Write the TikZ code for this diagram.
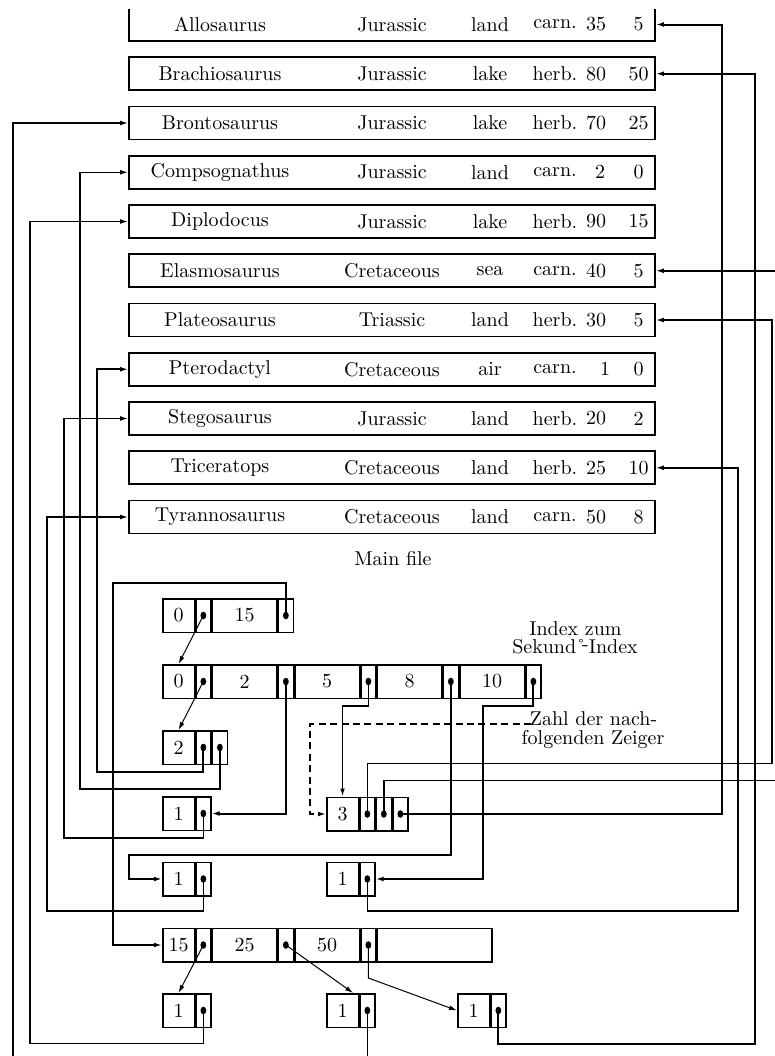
\documentclass[tikz,border=0pt]{standalone}
\usetikzlibrary{arrows.meta,shapes.geometric}
\begin{document}
\begin{tikzpicture}[x=0.5pt,y=-0.5pt,
  every node/.style={font=\fontsize{10}{12}\selectfont},
  rowbox/.style={draw,line width=0.8pt,minimum width=263pt,minimum height=16.5pt,inner sep=0pt},
  cellbase/.style={draw,line width=0.75pt,minimum height=16.75pt,inner sep=0pt,anchor=west},
  keycell/.style={cellbase,minimum width=15.8pt},
  ptrcell/.style={cellbase,minimum width=7.5pt},
  valcell/.style={cellbase,minimum width=32.25pt},
  emptycell/.style={cellbase,minimum width=57.25pt},
  conn/.style={line width=0.75pt},
  tconn/.style={line width=1pt},
  slant/.style={line width=0.5pt},
  arr/.style={-{Latex[length=4pt,width=2.4pt]}},
  lbl/.style={anchor=base,inner sep=0pt},
  ptrdot/.style={ellipse,fill=black,inner sep=0pt,minimum width=2.9pt,minimum height=3.8pt},
]
\useasboundingbox (0,0) rectangle (775,1056);
\clip (0,9.2) rectangle (775,1056);

% ---------------- main file ----------------
\foreach \i/\nm/\per/\hab/\die/\xa/\va/\vb in {
  0/Allosaurus/Jurassic/land/carn./596/35/5,
  1/Brachiosaurus/Jurassic/lake/herb./596/80/50,
  2/Brontosaurus/Jurassic/lake/herb./596/70/25,
  3/Compsognathus/Jurassic/land/carn./600/2/0,
  4/Diplodocus/Jurassic/lake/herb./596/90/15,
  5/Elasmosaurus/Cretaceous/sea/carn./596/40/5,
  6/Plateosaurus/Triassic/land/herb./596/30/5,
  7/Pterodactyl/Cretaceous/air/carn./605/1/0,
  8/Stegosaurus/Jurassic/land/herb./596/20/2,
  9/Triceratops/Cretaceous/land/herb./596/25/10,
  10/Tyrannosaurus/Cretaceous/land/carn./596/50/8}{
  \node[rowbox] (r\i) at (392,{24.5+49.25*\i}) {};
  \node (nm\i) at (220,{24.5+49.25*\i}) {\nm};
  \node (pe\i) at (392,{24.5+49.25*\i}) {\per};
  \node (ha\i) at (490,{24.5+49.25*\i}) {\hab};
  \node (di\i) at (555,{24.5+49.25*\i}) {\die};
  \node (va\i) at (\xa,{24.5+49.25*\i}) {\va};
  \node (vb\i) at (638.5,{24.5+49.25*\i}) {\vb};
}
\node (mainfile) at (393,559) {Main file};

% ---------------- index structures ----------------
\node[keycell] (A0) at (162,615.5) {0};
\node[ptrcell] (A1) at (A0.east) {};
\node[valcell] (A2) at (A1.east) {15};
\node[ptrcell] (A3) at (A2.east) {};

\node[keycell] (B0) at (162,681.5) {0};
\node[ptrcell] (B1) at (B0.east) {};
\node[valcell] (B2) at (B1.east) {2};
\node[ptrcell] (B3) at (B2.east) {};
\node[valcell] (B4) at (B3.east) {5};
\node[ptrcell] (B5) at (B4.east) {};
\node[valcell] (B6) at (B5.east) {8};
\node[ptrcell] (B7) at (B6.east) {};
\node[valcell] (B8) at (B7.east) {10};
\node[ptrcell] (B9) at (B8.east) {};

\node[keycell] (C0) at (162,747.5) {2};
\node[ptrcell] (C1) at (C0.east) {};
\node[ptrcell] (C2) at (C1.east) {};

\node[keycell] (D0) at (162,813.5) {1};
\node[ptrcell] (D1) at (D0.east) {};

\node[keycell] (E0) at (326,814) {3};
\node[ptrcell] (E1) at (E0.east) {};
\node[ptrcell] (E2) at (E1.east) {};
\node[ptrcell] (E3) at (E2.east) {};

\node[keycell] (F0) at (162,879) {1};
\node[ptrcell] (F1) at (F0.east) {};
\node[keycell] (G0) at (326,879) {1};
\node[ptrcell] (G1) at (G0.east) {};

\node[keycell] (H0) at (162,945) {15};
\node[ptrcell] (H1) at (H0.east) {};
\node[valcell] (H2) at (H1.east) {25};
\node[ptrcell] (H3) at (H2.east) {};
\node[valcell] (H4) at (H3.east) {50};
\node[ptrcell] (H5) at (H4.east) {};
\node[emptycell] (H6) at (H5.east) {};

\node[keycell] (I0) at (162,1010.5) {1};
\node[ptrcell] (I1) at (I0.east) {};
\node[keycell] (J0) at (326,1010.5) {1};
\node[ptrcell] (J1) at (J0.east) {};
\node[keycell] (K0) at (457,1010.5) {1};
\node[ptrcell] (K1) at (K0.east) {};

% labels
\node[lbl] (idx1) at (575.5,635) {Index zum};
\node[lbl] (idx2) at (575,653.5) {Sekund{\r{}}\kern-0.2em\raisebox{0.3ex}{-}Index};
\node[lbl] (zahl1) at (593.5,725.5) {Zahl der nach-};
\node[lbl] (zahl2) at (593,744) {folgenden Zeiger};
\coordinate (zstart) at (531,724);

% ---------------- connectors ----------------
\draw[conn,arr] (A3.center) |- (113,583) |- (H0.west);
\draw[slant,arr] (A1.center) -- (B0.north);
\draw[slant,arr] (B1.center) -- (C0.north);
\draw[tconn,arr] (B3.center) |- (D1.east);
\draw[conn,arr] (B5.center) |- (342,706) -| (E0.north);
\draw[tconn,arr] (B7.center) |- (129,855) |- (F0.west);
\draw[tconn,arr] (B9.center) |- (483,706) |- (G1.east);
\draw[conn,dashed,dash pattern=on 3.5pt off 2.2pt,arr] (zstart) -- (310,724) |- (E0.west);
\draw[tconn,arr] (C1.center) |- (97,772) |- (r7.west);
\draw[conn,arr] (C2.center) |- (80,789) |- (r3.west);
\draw[conn,arr] (D1.center) |- (64,838) |- (r8.west);
\draw[conn,arr] (E1.center) |- (772,763.5) |- (r6.east);
\draw[conn,arr] (E2.center) |- (792,780.5) |- (r5.east);
\draw[tconn,arr] (E3.center) -- (722,814) |- (r0.east);
\draw[conn,arr] (F1.center) |- (47,911) |- (r10.west);
\draw[conn,arr] (G1.center) |- (738,911) |- (r9.east);
\draw[slant,arr] (H1.center) -- (I0.north);
\draw[slant,arr] (H3.center) -- ([xshift=-3pt]J0.north east);
\draw[slant,arr] (H5.center) -- ([yshift=-16.5pt]H5.center) -- (K0.west);
\draw[conn,arr] (I1.center) |- (30,1043.5) |- (r4.west);
\draw[conn,arr] (J1.center) |- (13,1080) |- (r2.west);
\draw[tconn,arr] (K1.center) |- (755,1043.5) |- (r1.east);

% ---------------- pointer dots ----------------
\foreach \p in {A1,A3,B1,B3,B5,B7,B9,C1,C2,D1,E1,E2,E3,F1,G1,H1,H3,H5,I1,J1,K1}{
  \node[ptrdot] (dot\p) at (\p.center) {};
}
\end{tikzpicture}
\end{document}
